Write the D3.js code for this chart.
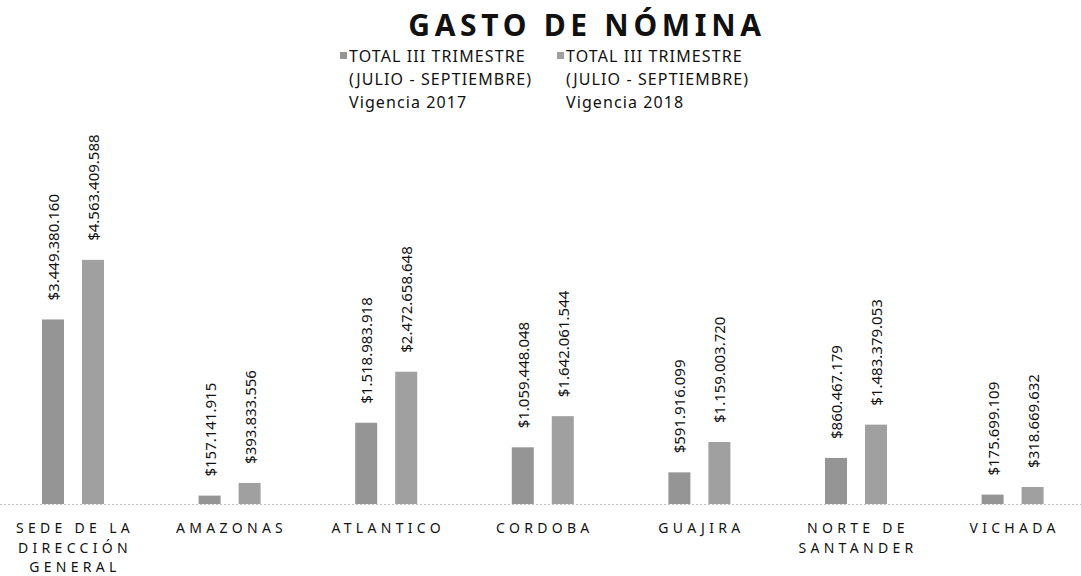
<!DOCTYPE html>
<html><head><meta charset="utf-8">
<script src="https://cdn.jsdelivr.net/npm/d3@7"></script>
<style>body{margin:0;background:#fff}</style>
</head><body>
<svg id="chart" width="1081" height="576"></svg>
<script>
const categories = [["SEDE DE LA","DIRECCIÓN","GENERAL"],["AMAZONAS"],["ATLANTICO"],["CORDOBA"],["GUAJIRA"],["NORTE DE","SANTANDER"],["VICHADA"]];
const series = ["2017","2018"];
const legendLabels = [["TOTAL III TRIMESTRE","(JULIO - SEPTIEMBRE)","Vigencia 2017"],["TOTAL III TRIMESTRE","(JULIO - SEPTIEMBRE)","Vigencia 2018"]];
const values2017 = [3449380160,157141915,1518983918,1059448048,591916099,860467179,175699109];
const values2018 = [4563409588,393833556,2472658648,1642061544,1159003720,1483379053,318669632];
const title = "GASTO DE NÓMINA";

const svg = d3.select("#chart");
svg.append("rect").attr("width",1081).attr("height",576).attr("fill","#fff");
const colors = ["#959595","#a0a0a0"];
const catKeys = categories.map(c=>c.join(" "));
const x = d3.scaleBand().domain(catKeys).range([-5.3,1090.9]).padding(0);
const xs = d3.scaleBand().domain(series).range([x.bandwidth()/2-40,x.bandwidth()/2+40]).paddingInner(0.45).paddingOuter(0.225);
const y = d3.scaleLinear().domain([0,5e9]).range([504,236.5]);
const loc = d3.formatLocale({decimal:",",thousands:".",grouping:[3],currency:["$",""]});
const fmt = loc.format("$,.0f");

// baseline
svg.append("line").attr("x1",0).attr("x2",1081).attr("y1",y(0)+0.5).attr("y2",y(0)+0.5)
  .attr("stroke","#bdbdbd").attr("stroke-width",1).attr("stroke-dasharray","2,2");

const data = catKeys.map((k,i)=>({k, vals:[values2017[i],values2018[i]]}));
const g = svg.selectAll("g.cat").data(data).join("g").attr("class","cat")
  .attr("transform",d=>`translate(${x(d.k)},0)`);
g.selectAll("rect").data(d=>d.vals.map((v,j)=>({s:series[j],v,j}))).join("rect")
  .attr("x",d=>xs(d.s)).attr("width",xs.bandwidth())
  .attr("y",d=>y(d.v)).attr("height",d=>y(0)-y(d.v)).attr("fill",d=>colors[d.j]);
g.selectAll("text.val").data(d=>d.vals.map((v,j)=>({s:series[j],v,j}))).join("text").attr("class","val")
  .attr("transform",d=>`translate(${xs(d.s)+xs.bandwidth()/2+6},${y(d.v)-19}) rotate(-90)`)
  .attr("font-family","Noto Sans").attr("font-size",15).attr("fill","#111")
  .text(d=>fmt(d.v));

// category labels
svg.selectAll("text.cat").data(categories).join("text").attr("class","cat")
  .attr("font-family","Noto Sans").attr("font-size",14).attr("letter-spacing",4.3).attr("fill","#111")
  .attr("text-anchor","middle")
  .each(function(lines,i){
    const cx = x(catKeys[i])+x.bandwidth()/2+2;
    d3.select(this).selectAll("tspan").data(lines).join("tspan")
      .attr("x",cx).attr("y",(l,j)=>533+j*19.5).text(l=>l);
  });

// title
svg.append("text").attr("x",587).attr("y",35.5).attr("text-anchor","middle")
  .attr("font-family","Noto Sans").attr("font-weight","bold").attr("font-size",30)
  .attr("letter-spacing",4.7).attr("fill","#111").text(title);

// legend
const legX = [340,557];
const legY = [62,85,108];
legendLabels.forEach((lines,i)=>{
  const lg = svg.append("g").attr("transform",`translate(${legX[i]},0)`);
  lg.append("rect").attr("x",0).attr("y",52).attr("width",7).attr("height",7).attr("fill",colors[i]);
  lg.append("text").attr("font-family","Noto Sans").attr("font-size",16).attr("letter-spacing",1.1).attr("fill","#111")
    .selectAll("tspan").data(lines).join("tspan").attr("x",9).attr("y",(l,j)=>legY[j]).text(l=>l);
});
</script>
</body></html>
